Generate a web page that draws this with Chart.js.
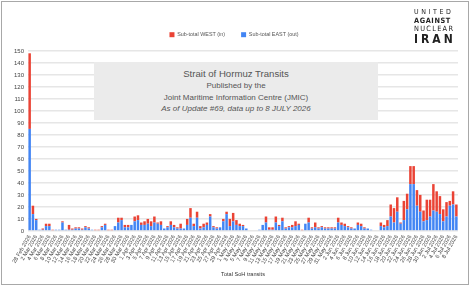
<!DOCTYPE html>
<html>
<head>
<meta charset="utf-8">
<script src="https://cdn.jsdelivr.net/npm/chart.js@4/dist/chart.umd.min.js"></script>
<style>
  html, body { margin: 0; padding: 0; background: #fff; }
  body { width: 470px; height: 294px; position: relative; overflow: hidden; font-family: "Liberation Sans", Arial, sans-serif; }
  #frame { position: absolute; left: 1px; top: 1px; width: 466px; height: 282px; border: 1px solid #a8a8a8; box-sizing: content-box; }
  #c { position: absolute; left: 0; top: 0; }
  #titlebox { position: absolute; left: 94px; top: 62px; width: 284px; height: 58px; background: #ebebeb; color: #555; text-align: center; }
  #titlebox div { position: absolute; left: 0; width: 100%; white-space: nowrap; }
  #logo { position: absolute; left: 414px; top: 9px; width: 44px; color: #222; font-family: "DejaVu Sans Condensed", "Liberation Sans Narrow", sans-serif; }
  #logo div { position: absolute; left: 0; white-space: nowrap; line-height: 1; }
</style>
</head>
<body>
<div id="frame"></div>
<canvas id="c" width="470" height="294"></canvas>
<div id="titlebox">
  <div style="top:6px;font-size:9.6px;">Strait of Hormuz Transits</div>
  <div style="top:19px;font-size:8px;">Published by the</div>
  <div style="top:31px;font-size:8px;">Joint Maritime Information Centre (JMIC)</div>
  <div style="top:42px;font-size:8px;font-style:italic;">As of Update #69, data up to 8 JULY 2026</div>
</div>
<div id="logo">
  <div style="top:0px;font-size:7px;letter-spacing:2.6px;font-weight:300;">UNITED</div>
  <div style="top:8px;font-size:7.3px;letter-spacing:0.6px;font-weight:bold;">AGAINST</div>
  <div style="top:16px;font-size:7.3px;letter-spacing:1.3px;">NUCLEAR</div>
  <div style="top:24px;font-size:12px;letter-spacing:3px;font-weight:bold;">IRAN</div>
</div>
<script>
const categories = [
  '28 Feb 2026','1 Mar 2026','2 Mar 2026','3 Mar 2026','4 Mar 2026','5 Mar 2026','6 Mar 2026','7 Mar 2026','8 Mar 2026','9 Mar 2026',
  '10 Mar 2026','11 Mar 2026','12 Mar 2026','13 Mar 2026','14 Mar 2026','15 Mar 2026','16 Mar 2026','17 Mar 2026','18 Mar 2026','19 Mar 2026',
  '20 Mar 2026','21 Mar 2026','22 Mar 2026','23 Mar 2026','24 Mar 2026','25 Mar 2026','26 Mar 2026','27 Mar 2026','28 Mar 2026','29 Mar 2026',
  '30 Mar 2026','31 Mar 2026','1 Apr 2026','2 Apr 2026','3 Apr 2026','4 Apr 2026','5 Apr 2026','6 Apr 2026','7 Apr 2026','8 Apr 2026',
  '9 Apr 2026','10 Apr 2026','11 Apr 2026','12 Apr 2026','13 Apr 2026','14 Apr 2026','15 Apr 2026','16 Apr 2026','17 Apr 2026','18 Apr 2026',
  '19 Apr 2026','20 Apr 2026','21 Apr 2026','22 Apr 2026','23 Apr 2026','24 Apr 2026','25 Apr 2026','26 Apr 2026','27 Apr 2026','28 Apr 2026',
  '29 Apr 2026','30 Apr 2026','1 May 2026','2 May 2026','3 May 2026','4 May 2026','5 May 2026','6 May 2026','7 May 2026','8 May 2026',
  '9 May 2026','10 May 2026','11 May 2026','12 May 2026','13 May 2026','14 May 2026','15 May 2026','16 May 2026','17 May 2026','18 May 2026',
  '19 May 2026','20 May 2026','21 May 2026','22 May 2026','23 May 2026','24 May 2026','25 May 2026','26 May 2026','27 May 2026','28 May 2026',
  '29 May 2026','30 May 2026','31 May 2026','1 Jun 2026','2 Jun 2026','3 Jun 2026','4 Jun 2026','5 Jun 2026','6 Jun 2026','7 Jun 2026',
  '8 Jun 2026','9 Jun 2026','10 Jun 2026','11 Jun 2026','12 Jun 2026','13 Jun 2026','14 Jun 2026','15 Jun 2026','16 Jun 2026','17 Jun 2026',
  '18 Jun 2026','19 Jun 2026','20 Jun 2026','21 Jun 2026','22 Jun 2026','23 Jun 2026','24 Jun 2026','25 Jun 2026','26 Jun 2026','27 Jun 2026',
  '28 Jun 2026','29 Jun 2026','30 Jun 2026','1 Jul 2026','2 Jul 2026','3 Jul 2026','4 Jul 2026','5 Jul 2026','6 Jul 2026','7 Jul 2026',
  '8 Jul 2026'
];

// Sub-total EAST (out) - blue, bottom of stack
const eastOut = [
  85,14,9,1,1,4,4,0,1,1,
  7,1,1,1,2,2,1,3,2,1,
  0,0,3,5,0,0,4,7,9,3,
  3,5,8,9,5,5,6,4,7,6,
  5,2,3,5,3,2,2,2,5,11,
  4,11,2,3,5,12,3,2,3,8,
  14,4,8,5,4,4,2,0,0,0,
  1,5,7,1,1,7,4,8,2,3,
  3,4,5,0,6,7,2,3,2,3,
  2,2,2,2,7,5,4,3,2,2,
  5,4,2,2,1,0,0,4,3,4,
  12,7,16,6,9,18,39,39,21,16,
  8,9,12,17,16,14,8,12,21,22,
  12
];

// Sub-total WEST (in) - red, top of stack
const westIn = [
  63,7,1,0,1,2,2,1,0,0,
  1,0,4,1,1,1,1,1,1,0,
  1,1,1,1,1,1,0,4,2,2,
  2,0,4,4,2,3,4,4,5,1,
  3,0,1,3,2,1,4,0,5,8,
  2,5,2,3,2,2,1,1,0,2,
  2,6,7,4,2,1,0,0,0,0,
  0,0,5,2,2,5,1,3,1,1,
  2,4,1,1,0,4,1,4,1,1,
  1,1,1,1,4,2,2,1,1,0,
  2,2,1,0,0,0,0,3,2,5,
  10,12,12,1,16,13,15,15,13,14,
  9,17,14,22,17,15,10,12,4,11,
  10
];

const yTicks = [0,10,20,30,40,50,60,70,80,90,100,110,120,130,140,150];

const ctx = document.getElementById('c');
const chart = new Chart(ctx, {
  type: 'bar',
  data: {
    labels: categories,
    datasets: [
      { label: 'Sub-total EAST (out)', data: eastOut, backgroundColor: '#4285f4', borderWidth: 0 },
      { label: 'Sub-total WEST (in)', data: westIn, backgroundColor: '#ea4335', borderWidth: 0 }
    ]
  },
  options: {
    responsive: false,
    animation: false,
    devicePixelRatio: 1,
    layout: { padding: { left: 10, right: 12, top: 16, bottom: 15 } },
    datasets: { bar: { barPercentage: 0.8, categoryPercentage: 0.95 } },
    plugins: {
      tooltip: { enabled: false },
      title: { display: false },
      legend: {
        position: 'top',
        align: 'center',
        labels: {
          boxWidth: 5, boxHeight: 5, padding: 16,
          color: '#555',
          font: { family: 'Liberation Sans', size: 5.4 },
          sort: (a, b) => b.datasetIndex - a.datasetIndex
        }
      }
    },
    scales: {
      x: {
        stacked: true,
        grid: { display: false, drawTicks: false },
        border: { display: false },
        ticks: {
          autoSkip: false, minRotation: 60, maxRotation: 60, padding: 3,
          color: '#444',
          font: { family: 'Liberation Sans', size: 5.6 },
          callback: function(v, i) { return i % 2 === 0 ? categories[i] : ''; }
        },
        title: { display: true, text: 'Total SoH transits', color: '#333', font: { family: 'Liberation Sans', size: 5.6 }, padding: { top: 3, bottom: 1 } }
      },
      y: {
        stacked: true,
        min: yTicks[0], max: yTicks[yTicks.length - 1],
        grid: { color: '#e6e6e6', lineWidth: 1.5, drawTicks: false },
        border: { display: false },
        ticks: {
          stepSize: yTicks[1] - yTicks[0], maxTicksLimit: 30, autoSkip: false,
          color: '#444', padding: 4, font: { family: 'Liberation Sans', size: 6 }
        }
      }
    }
  }
});
// give the legend a little extra room below it, as in the reference
const origFit = chart.legend.fit;
chart.legend.fit = function () { origFit.call(this); this.height += 3.5; };
chart.update();
</script>
</body>
</html>
